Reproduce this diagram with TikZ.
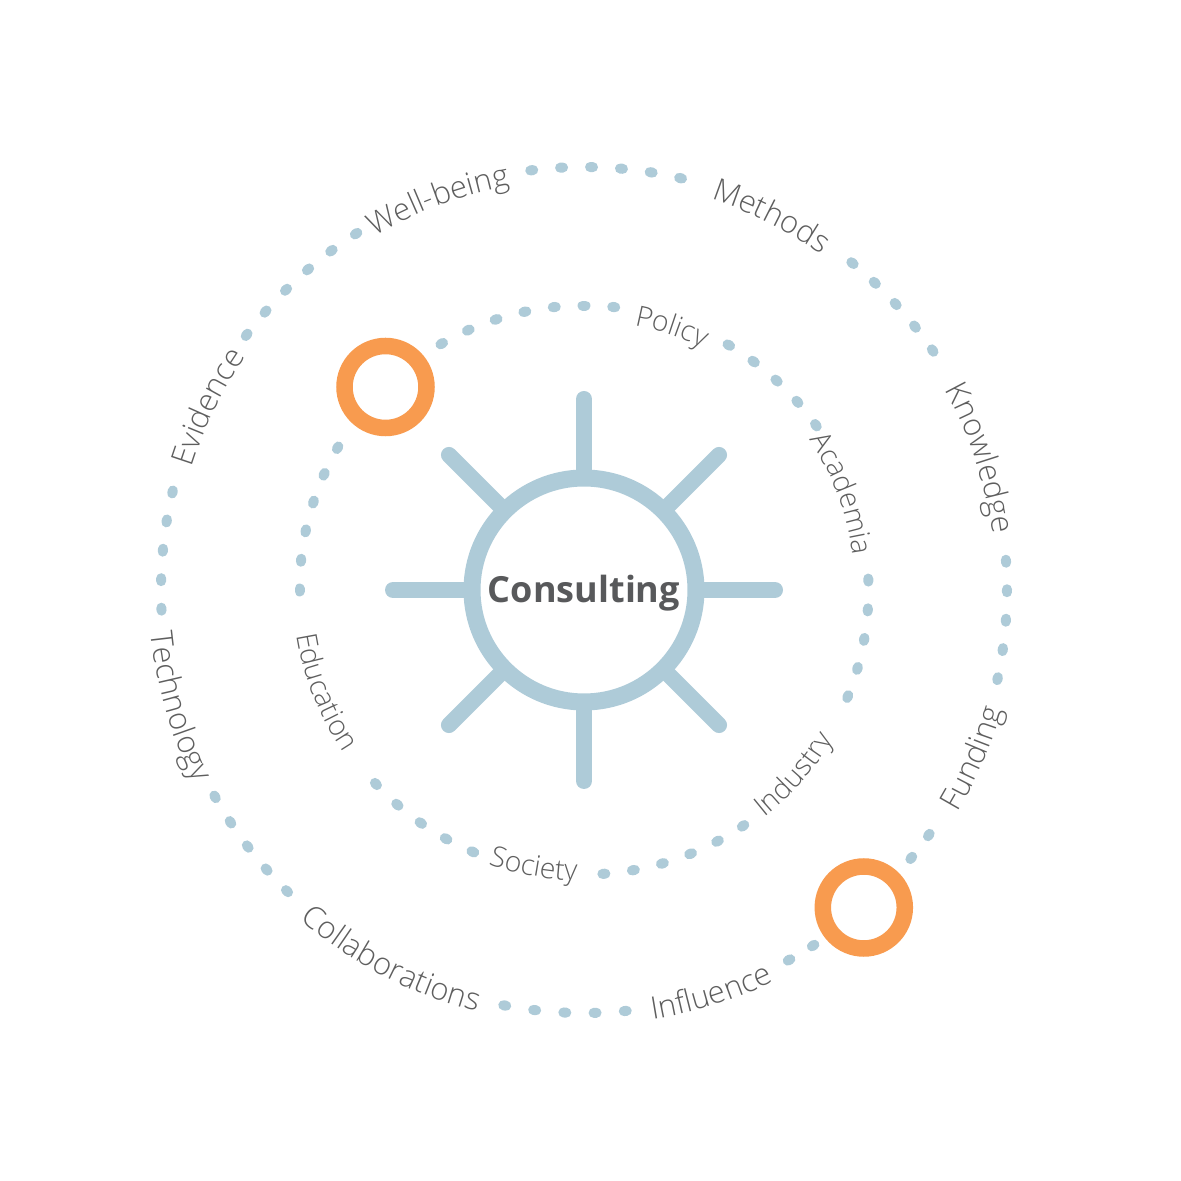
\documentclass[tikz,border=0pt]{standalone}
\usepackage{fontspec}
\usetikzlibrary{decorations.text}
\setmainfont{Open Sans}
\newfontfamily\lightfont{Open Sans Light}
\definecolor{ringblue}{HTML}{AECBD8}
\definecolor{accent}{HTML}{F89B4F}
\definecolor{labelgrey}{HTML}{5E5E5E}
\definecolor{titlegrey}{HTML}{58595B}
\newcommand{\arcup}[4]{\path[#3={#4}] ([shift={(#1+35:#2)}]C) arc[start angle=#1+35, end angle=#1-35, radius=#2];}
\newcommand{\arcdown}[4]{\path[#3={#4}] ([shift={(#1-35:#2)}]C) arc[start angle=#1-35, end angle=#1+35, radius=#2];}
\begin{document}
\begin{tikzpicture}[x=1pt,y=1pt,
  dotsty/.style={draw=ringblue, line width=10pt, line cap=round},
  raysty/.style={draw=ringblue, line width=16pt, line cap=round},
  hubsty/.style={circle, draw=ringblue, line width=17pt, fill=white, minimum size=224pt, inner sep=0pt, outer sep=0pt},
  accentring/.style={circle, draw=accent, line width=16.5pt, fill=white, minimum size=82pt, inner sep=0pt},
  outtext/.style={decorate, decoration={text along path, text align=center, text={|\lightfont\fontsize{31}{35}\selectfont\color{labelgrey}|#1}}},
  intext/.style={decorate, decoration={text along path, text align=center, text={|\lightfont\fontsize{28.5}{32}\selectfont\color{labelgrey}|#1}}}]
\useasboundingbox (0,0) rectangle (1181,1181);
\coordinate (C) at (584,591);
% outer dotted ring
\foreach \s/\n/\st in {142.9/5/4.06, 97.1/5/4.06, 50.6/4/4.03, 3.9/4/4.0, -35.4/1/3.9, -57.2/1/3.8, -84.4/4/4.1, -134.6/4/4.03, 182.6/4/4.0}{
  \foreach \i in {0,...,\n}{
    \pgfmathsetmacro\a{\s-\i*\st}
    \draw[dotsty] ([shift={(\a+0.2:423)}]C) -- ([shift={(\a-0.2:423)}]C);
  }
}
% inner dotted ring
\foreach \s/\n in {180/5, 120/6, 59.4/4, 2/4, -56/5, -113/4}{
  \foreach \i in {0,...,\n}{
    \pgfmathsetmacro\a{\s-\i*6}
    \draw[dotsty] ([shift={(\a+0.3:284.5)}]C) -- ([shift={(\a-0.3:284.5)}]C);
  }
}
% rays
\foreach \t in {0,45,...,315}{
  \draw[raysty] ([shift={(\t:112)}]C) -- ([shift={(\t:191)}]C);
}
\node[hubsty, font=\bfseries\fontsize{36}{40}\selectfont, text=titlegrey, text height=26pt, text depth=0pt] (hub) at (C) {Consulting};
% accent rings
\node[accentring] (acc1) at (385.5,794) {};
\node[accentring] (acc2) at (863.8,273.5) {};
% outer labels (baseline 12pt inside/outside the dotted ring)
\arcup{110.5}{411}{outtext}{Well-being}
\arcup{63.4}{411}{outtext}{Methods}
\arcup{18.4}{412.5}{outtext}{Knowledge}
\arcup{154}{411}{outtext}{Evidence}
\arcdown{-23.4}{435}{outtext}{Funding}
\arcdown{-72.5}{435}{outtext}{Influence}
\arcdown{-117.5}{435}{outtext}{Collaborations}
\arcdown{-164}{435}{outtext}{Technology}
% inner labels
\arcup{71.5}{269.5}{intext}{Policy}
\arcup{20.5}{271}{intext}{Academia}
\arcdown{-41.3}{290.5}{intext}{Industry}
\arcdown{-100.3}{290.5}{intext}{Society}
\arcdown{-158.5}{290.5}{intext}{Education}
\end{tikzpicture}
\end{document}
